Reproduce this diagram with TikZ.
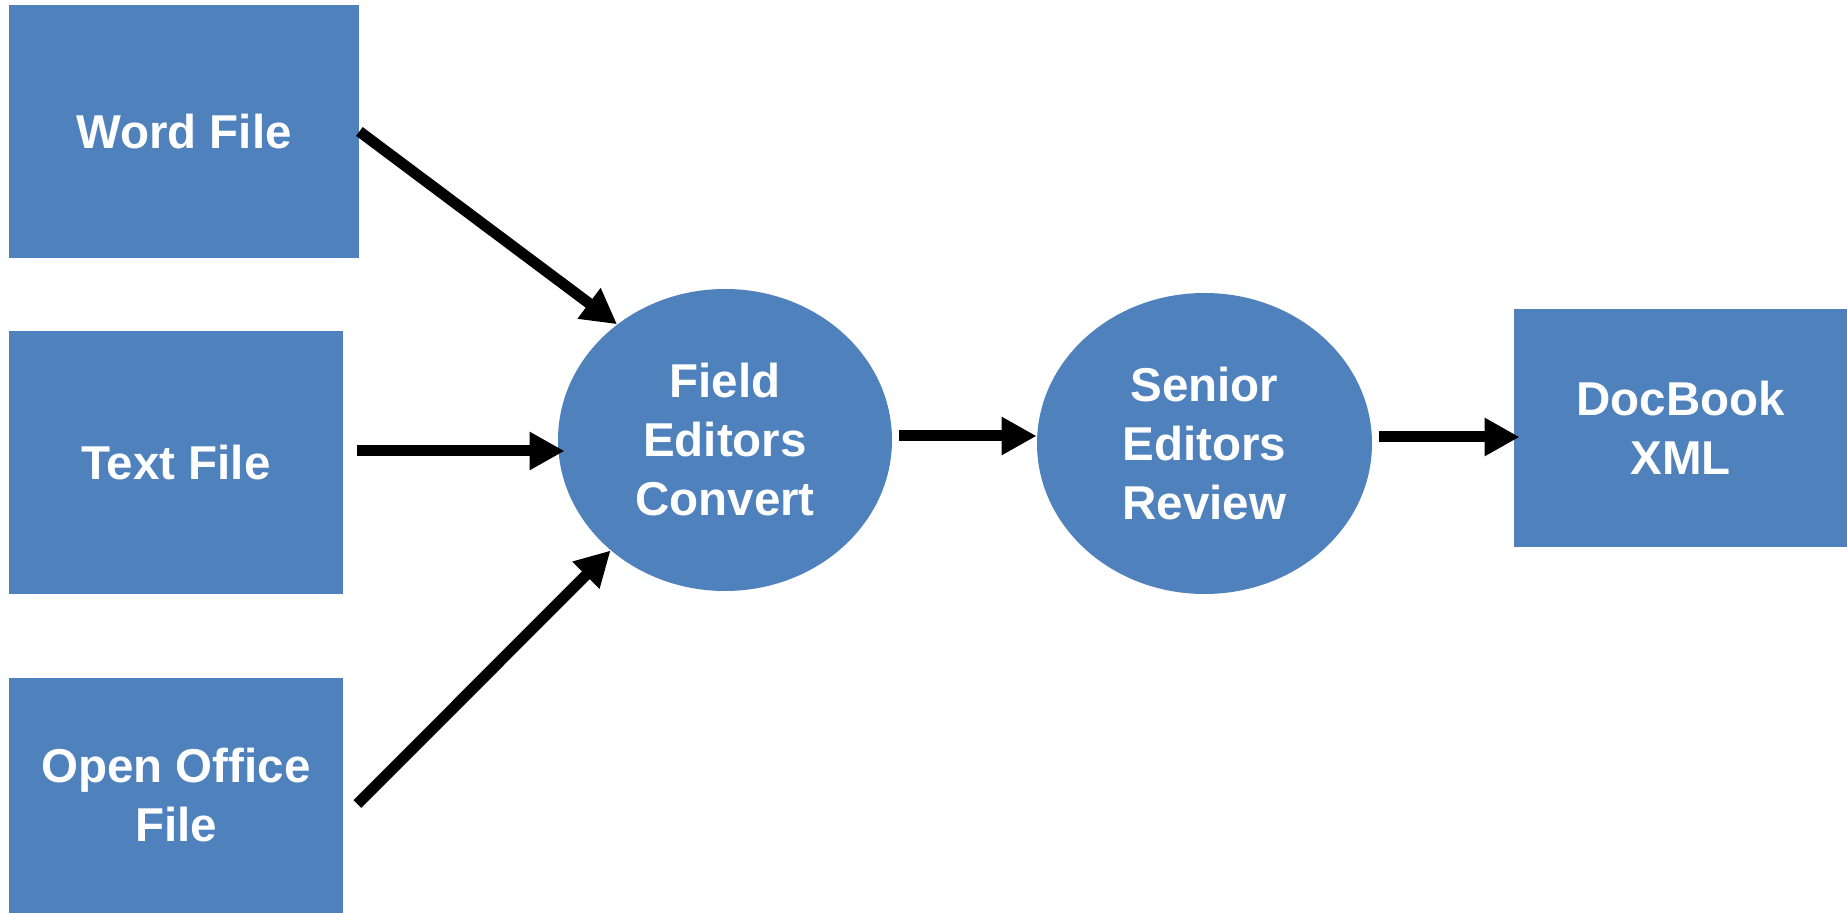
\documentclass[tikz,border=0pt]{standalone}
\usepackage{fontspec}
\setmainfont{Liberation Sans}
\usetikzlibrary{arrows.meta,shapes.geometric,calc}
\definecolor{boxblue}{HTML}{4F81BD}
\tikzset{
  lbl/.style={text=white,font=\bfseries\fontsize{23.75}{29.5}\selectfont,align=center,inner sep=0pt},
  filebox/.style={lbl,rectangle,fill=boxblue,draw=none},
  stagecirc/.style={lbl,ellipse,fill=boxblue,draw=none},
  arr/.style={line width=5.5pt,black,-{Triangle[length=17.5pt,width=18pt]}}
}
\begin{document}
\begin{tikzpicture}[x=0.5pt,y=-0.5pt]
\useasboundingbox (0,0) rectangle (1847,913);
\fill[white] (0,0) rectangle (1847,913);
\node[filebox,minimum width=175pt,minimum height=126.5pt] (word) at (184,131.5) {Word File};
\node[filebox,minimum width=167pt,minimum height=131.5pt] (text) at (176,462.5) {Text File};
\node[filebox,minimum width=167pt,minimum height=117.5pt] (open) at (176,795.5) {Open Office\\File};
\node[stagecirc,minimum width=167pt,minimum height=151pt] (field) at (725,440) {Field\\Editors\\Convert};
\node[stagecirc,minimum width=167.5pt,minimum height=150.5pt] (senior) at (1204.5,443.5) {Senior\\Editors\\Review};
\node[filebox,minimum width=166.5pt,minimum height=119pt] (docbook) at (1680.5,428) {DocBook\\XML};

\coordinate (wS) at (word.east);
\coordinate (wT) at (field.133);
\coordinate (tS) at ($(text.east)+(7pt,5.75pt)$);
\coordinate (tT) at ($(field.west)+(3.5pt,-5.5pt)$);
\coordinate (oS) at ($(open.east)+(7pt,-4.25pt)$);
\coordinate (oT) at (field.224);
\coordinate (fS) at ($(field.east)+(3.5pt,2pt)$);
\coordinate (fT) at (fS -| senior.west);
\coordinate (sS) at ($(senior.east)+(3.5pt,3.25pt)$);
\coordinate (sT0) at (sS -| docbook.west);
\coordinate (sT) at ($(sT0)+(3pt,0)$);

\draw[arr] (wS) -- (wT);
\draw[arr] (tS) -- (tT);
\draw[arr] (oS) -- (oT);
\draw[arr] (fS) -- (fT);
\draw[arr] (sS) -- (sT);
\end{tikzpicture}
\end{document}
